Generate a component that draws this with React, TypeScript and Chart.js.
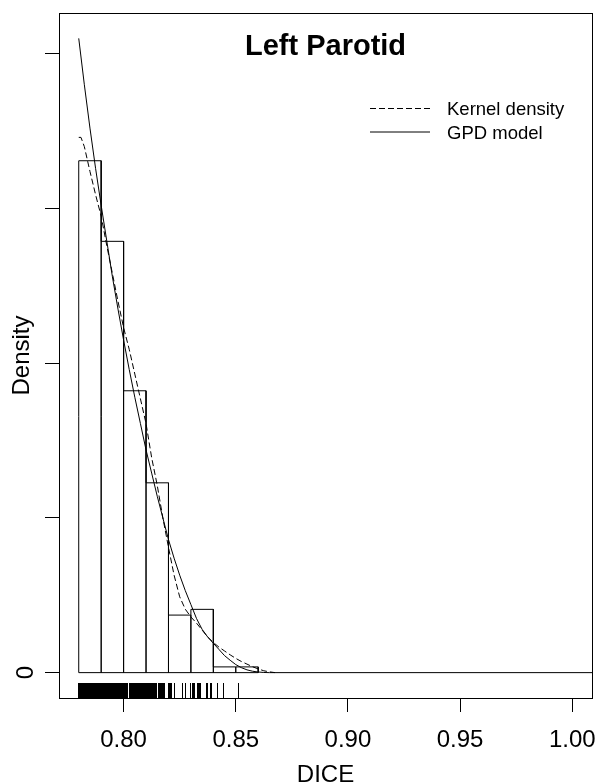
import React, { useEffect, useRef } from "react";
import { Chart, registerables } from "chart.js";

Chart.register(...registerables);

// ---------- data ----------
const chartTitle = "Left Parotid";
const xAxisTitle = "DICE";
const yAxisTitle = "Density";

// histogram (density scale, bin width 0.01)
const binEdges = [0.78, 0.79, 0.8, 0.81, 0.82, 0.83, 0.84, 0.85, 0.86];
const binDensities = [33.09, 27.88, 18.22, 12.27, 3.72, 4.09, 0.37, 0.37];

// kernel density estimate (dashed)
const kdeX = [
  0.78, 0.781, 0.7825, 0.785, 0.7875, 0.79, 0.7925, 0.795, 0.7975, 0.8, 0.8025, 0.805, 0.8075, 0.81,
  0.8125, 0.815, 0.8175, 0.82, 0.8225, 0.825, 0.8275, 0.83, 0.8325, 0.835, 0.8375, 0.84, 0.8425,
  0.845, 0.8475, 0.85, 0.8525, 0.855, 0.8575, 0.86, 0.8625, 0.865, 0.8675,
];
const kdeY = [
  34.6, 34.6, 34.0, 32.4, 30.9, 29.5, 27.6, 25.8, 24.0, 22.3, 20.9, 19.3, 17.7, 16.1,
  13.9, 12.1, 10.0, 8.1, 6.3, 4.9, 4.1, 3.6, 3.2, 2.75, 2.3, 1.95, 1.65,
  1.4, 1.15, 0.92, 0.72, 0.55, 0.38, 0.24, 0.12, 0.05, 0.0,
];

// fitted GPD density (solid)
const gpdX = [
  0.78, 0.7825, 0.785, 0.7875, 0.79, 0.7925, 0.795, 0.7975, 0.8, 0.8025, 0.805, 0.8075, 0.81,
  0.8125, 0.815, 0.8175, 0.82, 0.8225, 0.825, 0.8275, 0.83, 0.8325, 0.835, 0.8375, 0.84, 0.8425,
  0.845, 0.8475, 0.85, 0.8525, 0.855, 0.8575, 0.86, 0.8625, 0.865, 1.01,
];
const gpdY = [
  41.0, 38.0, 35.2, 32.6, 30.2, 27.9, 25.6, 23.5, 21.5, 19.6, 17.8, 16.1, 14.4,
  12.9, 11.4, 10.0, 8.6, 7.4, 6.3, 5.3, 4.4, 3.5, 2.8, 2.3, 1.9, 1.5,
  1.1, 0.8, 0.52, 0.32, 0.18, 0.09, 0.04, 0.01, 0.0, 0.0,
];

// rug of observed DICE values
const rugValues = [
  0.78, 0.7804, 0.7808, 0.7812, 0.7816, 0.782, 0.7824, 0.7828, 0.7832, 0.7836, 0.784, 0.7844,
  0.7848, 0.7852, 0.7856, 0.786, 0.7864, 0.7868, 0.7872, 0.7876, 0.788, 0.7884, 0.7888, 0.7892,
  0.7896, 0.79, 0.7904, 0.7908, 0.7912, 0.7916, 0.792, 0.7924, 0.7928, 0.7932, 0.7936, 0.794,
  0.7944, 0.7948, 0.7952, 0.7956, 0.796, 0.7964, 0.7968, 0.7972, 0.7976, 0.798, 0.7984, 0.7988,
  0.7992, 0.7996, 0.8, 0.8004, 0.8008, 0.8012, 0.8016,
  0.8025, 0.8029, 0.8033, 0.8037, 0.8041, 0.8045, 0.8049, 0.8053, 0.8057, 0.8061, 0.8065, 0.8069,
  0.8073, 0.8077, 0.8081, 0.8085, 0.8089, 0.8093, 0.8097, 0.8101, 0.8105, 0.8109, 0.8113, 0.8117,
  0.8121, 0.8125, 0.8129, 0.8133, 0.8137, 0.8141, 0.8145, 0.8148,
  0.8155, 0.8158, 0.8162, 0.8166, 0.817, 0.8174, 0.8178, 0.8182,
  0.8199, 0.8203, 0.8207, 0.8211, 0.8215, 0.8226, 0.8264, 0.8274, 0.8299, 0.8305, 0.8311, 0.8315,
  0.833, 0.8335, 0.834, 0.8344, 0.8371, 0.8375, 0.8388, 0.8394, 0.8418, 0.8445, 0.8511,
];

const xDataRange = [0.78, 1.0];
const yDataRange = [0, 41.0];
const xTickValues = [0.8, 0.85, 0.9, 0.95, 1.0];
const xTickLabels = ["0.80", "0.85", "0.90", "0.95", "1.00"];
const yTickValues = [0, 10, 20, 30, 40];
const yTickLabels = ["0", "", "", "", ""];
const legendLabels = ["Kernel density", "GPD model"];

// ---------- styling ----------
const FONT = "'Liberation Sans', Arial, Helvetica, sans-serif";
const INK = "#000000";
const KDE_DASH = [6, 3];

// R-style 4% axis expansion
const expand = (r: number[]) => {
  const d = (r[1] - r[0]) * 0.04;
  return [r[0] - d, r[1] + d];
};

export default function App() {
  const canvasRef = useRef<HTMLCanvasElement | null>(null);

  useEffect(() => {
    const canvas = canvasRef.current;
    if (!canvas) return;

    const [xMin, xMax] = expand(xDataRange);
    const [yMin, yMax] = expand(yDataRange);

    // histogram outline built from bins
    const histPoints: { x: number; y: number }[] = [];
    binDensities.forEach((d, i) => {
      const l = binEdges[i];
      const r = binEdges[i + 1];
      histPoints.push({ x: l, y: 0 }, { x: l, y: d }, { x: r, y: d }, { x: r, y: 0 });
    });
    histPoints.push({ x: binEdges[0], y: 0 });

    const kdePoints = kdeX.map((x, i) => ({ x, y: kdeY[i] }));
    const gpdPoints = gpdX.map((x, i) => ({ x, y: gpdY[i] }));

    const decorations = {
      id: "rDecorations",
      afterDatasetsDraw(chart: any) {
        const { ctx, chartArea, scales } = chart;
        const xs = scales.x;
        const ys = scales.y;
        ctx.save();
        // rug
        ctx.strokeStyle = INK;
        ctx.lineWidth = 1;
        ctx.beginPath();
        rugValues.forEach((v) => {
          const px = Math.floor(xs.getPixelForValue(v)) + 0.5;
          ctx.moveTo(px, chartArea.bottom);
          ctx.lineTo(px, chartArea.bottom - 15);
        });
        ctx.stroke();
        // box
        ctx.lineWidth = 1;
        ctx.strokeRect(
          chartArea.left + 0.5,
          chartArea.top + 0.5,
          chartArea.right - chartArea.left,
          chartArea.bottom - chartArea.top
        );
        // y tick labels (rotated, R style)
        ctx.fillStyle = INK;
        ctx.font = `24px ${FONT}`;
        ctx.textAlign = "center";
        ctx.textBaseline = "middle";
        yTickValues.forEach((v, i) => {
          const label = yTickLabels[i];
          if (!label) return;
          const py = ys.getPixelForValue(v);
          ctx.save();
          ctx.translate(26, py);
          ctx.rotate(-Math.PI / 2);
          ctx.fillText(label, 0, 0);
          ctx.restore();
        });
        // title
        ctx.font = `bold 29px ${FONT}`;
        ctx.textAlign = "center";
        ctx.textBaseline = "alphabetic";
        ctx.fillText(chartTitle, (chartArea.left + chartArea.right) / 2, 55);
        // legend
        const styles = [KDE_DASH, []];
        ctx.font = `18.5px ${FONT}`;
        ctx.textAlign = "left";
        legendLabels.forEach((lab, i) => {
          const ly = 108.5 + i * 23.5;
          ctx.setLineDash(styles[i]);
          ctx.beginPath();
          ctx.moveTo(370, ly);
          ctx.lineTo(430, ly);
          ctx.stroke();
          ctx.setLineDash([]);
          ctx.fillText(lab, 447, ly + 6.7);
        });
        ctx.restore();
      },
    };

    const chart = new Chart(canvas, {
      type: "scatter",
      data: {
        datasets: [
          {
            label: "Histogram",
            data: histPoints,
            showLine: true,
            borderColor: INK,
            borderWidth: 1,
            borderJoinStyle: "bevel",
            pointRadius: 0,
            fill: false,
            tension: 0,
          },
          {
            label: legendLabels[0],
            data: kdePoints,
            showLine: true,
            borderColor: INK,
            borderWidth: 1,
            borderDash: KDE_DASH,
            pointRadius: 0,
            fill: false,
            tension: 0,
          },
          {
            label: legendLabels[1],
            data: gpdPoints,
            showLine: true,
            borderColor: INK,
            borderWidth: 1,
            pointRadius: 0,
            fill: false,
            tension: 0,
          },
        ],
      } as any,
      options: {
        animation: false,
        responsive: false,
        devicePixelRatio: 1,
        events: [],
        layout: { padding: { top: 13, right: 6, left: 0, bottom: 0 } },
        plugins: {
          legend: { display: false },
          tooltip: { enabled: false },
          title: { display: false },
        },
        scales: {
          x: {
            type: "linear",
            min: xMin,
            max: xMax,
            afterBuildTicks: (s: any) => {
              s.ticks = xTickValues.map((v) => ({ value: v }));
            },
            afterFit: (s: any) => {
              s.height = 86;
              s.paddingLeft = 0;
              s.paddingRight = 0;
            },
            ticks: {
              autoSkip: false,
              maxRotation: 0,
              minRotation: 0,
              padding: 14,
              color: INK,
              font: { family: FONT, size: 24 },
              callback: (v: any) => {
                const i = xTickValues.indexOf(Number(v));
                return i >= 0 ? xTickLabels[i] : "";
              },
            },
            grid: {
              drawOnChartArea: false,
              drawTicks: true,
              tickLength: 14,
              color: INK,
              lineWidth: 1,
            },
            border: { display: false },
            title: {
              display: true,
              text: xAxisTitle,
              color: INK,
              font: { family: FONT, size: 24, lineHeight: 0.7 },
              padding: { top: 0, bottom: 0 },
            },
          },
          y: {
            type: "linear",
            min: yMin,
            max: yMax,
            afterBuildTicks: (s: any) => {
              s.ticks = yTickValues.map((v) => ({ value: v }));
            },
            afterFit: (s: any) => {
              s.width = 59;
              s.paddingTop = 0;
              s.paddingBottom = 0;
            },
            ticks: { display: false },
            grid: {
              drawOnChartArea: false,
              drawTicks: true,
              tickLength: 14,
              color: INK,
              lineWidth: 1,
            },
            border: { display: false },
            title: {
              display: true,
              text: yAxisTitle,
              color: INK,
              font: { family: FONT, size: 24, lineHeight: 1.2 },
              padding: { top: 8, bottom: 0 },
            },
          },
        },
      } as any,
      plugins: [decorations],
    });

    return () => chart.destroy();
  }, []);

  return (
    <div
      style={{
        position: "absolute",
        left: 0,
        top: 0,
        width: 598,
        height: 784,
        background: "#ffffff",
      }}
    >
      <canvas ref={canvasRef} width={598} height={784} style={{ width: 598, height: 784, display: "block" }} />
    </div>
  );
}
